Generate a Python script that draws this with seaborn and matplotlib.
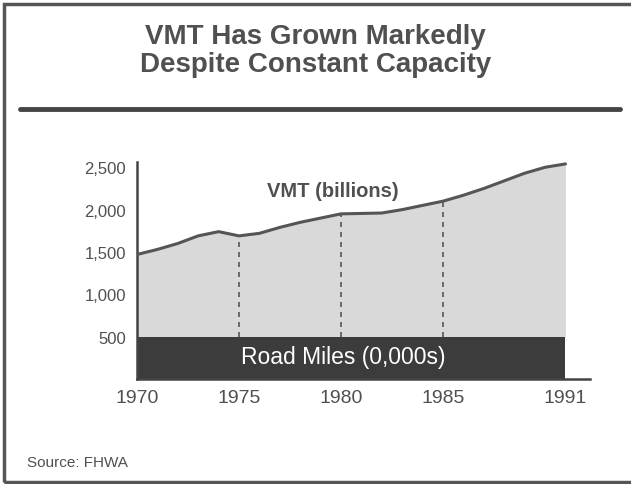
import matplotlib
matplotlib.use("Agg")
import matplotlib.pyplot as plt
import seaborn as sns
import pandas as pd
from matplotlib.patches import Rectangle
from matplotlib.lines import Line2D

# data
years = [1970, 1971, 1972, 1973, 1974, 1975, 1976, 1977, 1978, 1979, 1980,
         1981, 1982, 1983, 1984, 1985, 1986, 1987, 1988, 1989, 1990, 1991]
vmt = [1470, 1530, 1600, 1690, 1740, 1690, 1720, 1790, 1850, 1900, 1950,
       1955, 1960, 2000, 2050, 2100, 2170, 2250, 2340, 2430, 2500, 2540]
road_miles = [500] * len(years)
dash_years = [1975, 1980, 1985]
xtick_years = [1970, 1975, 1980, 1985, 1991]
ytick_vals = [500, 1000, 1500, 2000, 2500]

df = pd.DataFrame({"year": years, "vmt": vmt, "road": road_miles})

sns.set_style("white")
plt.rcParams["font.family"] = ["Liberation Sans", "DejaVu Sans"]

txt = "#505050"
fig = plt.figure(figsize=(6.31, 4.85), dpi=100)
fig.patch.set_facecolor("white")

ax = fig.add_axes([0.217, 0.2165, 0.718, 0.447])

ax.fill_between(df["year"], df["road"], df["vmt"], color="#d9d9d9", lw=0, zorder=1)
ax.fill_between(df["year"], 0, df["road"], color="#3c3c3c", lw=0, zorder=2)
sns.lineplot(data=df, x="year", y="vmt", ax=ax, color="#555555", lw=2.2, zorder=3)

for yr in dash_years:
    top = df.loc[df["year"] == yr, "vmt"].iloc[0]
    ax.plot([yr, yr], [500, top], ls=(0, (3, 3)), color="#555555", lw=1.2, zorder=2)

ax.set_xlim(1970, 1992.2)
ax.set_ylim(0, 2560)
ax.set_xticks(xtick_years)
ax.set_xticklabels([str(y) for y in xtick_years], fontsize=14, color=txt)
ax.set_yticks(ytick_vals)
ax.set_yticklabels([f"{v:,}" for v in ytick_vals], fontsize=12, color=txt)
ax.tick_params(axis="both", length=0, pad=8)
ax.tick_params(axis="x", pad=7)
ax.set_xlabel("")
ax.set_ylabel("")
sns.despine(ax=ax)
for s in ["left", "bottom"]:
    ax.spines[s].set_color("#444444")
    ax.spines[s].set_linewidth(1.8)

ax.text(1979.6, 2230, "VMT (billions)", fontsize=14.5, fontweight="bold",
        color=txt, ha="center", va="center")
ax.text(1980.1, 265, "Road Miles (0,000s)", fontsize=16.5,
        color="white", ha="center", va="center", zorder=4)

fig.text(0.5, 0.923, "VMT Has Grown Markedly", fontsize=20, fontweight="bold",
         color=txt, ha="center", va="center")
fig.text(0.5, 0.865, "Despite Constant Capacity", fontsize=20, fontweight="bold",
         color=txt, ha="center", va="center")
fig.lines.append(Line2D([20 / 631, 620 / 631], [1 - 110 / 485] * 2,
                        transform=fig.transFigure, color="#444444", lw=3.5))
fig.text(27 / 631, 1 - 463 / 485, "Source: FHWA", fontsize=11, color=txt,
         ha="left", va="center")
fig.patches.append(Rectangle((0.006, 0.005), 1.1, 0.984, transform=fig.transFigure,
                             fill=False, edgecolor="#555555", lw=2.5))

plt.savefig("out.png", dpi=100)
